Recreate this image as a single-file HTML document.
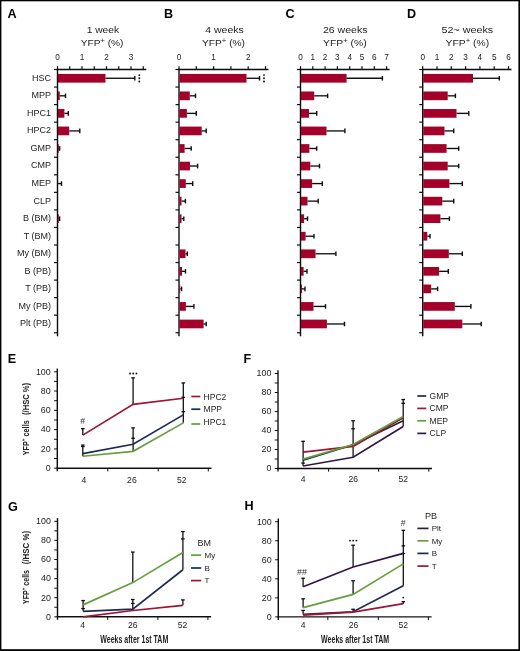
<!DOCTYPE html><html><head><meta charset="utf-8"><title>Figure</title><style>html,body{margin:0;padding:0;background:#fff;overflow:hidden;}svg{display:block;font-family:"Liberation Sans", sans-serif;}</style></head><body>
<svg width="520" height="651" viewBox="0 0 520 651">
<rect x="0" y="0" width="520" height="651" fill="#fff"/>
<defs><filter id="soft" x="-2%" y="-2%" width="104%" height="104%"><feGaussianBlur stdDeviation="0.3"/></filter></defs>
<g filter="url(#soft)">
<text x="7.4" y="18" font-size="12.6" text-anchor="start" font-weight="bold" fill="#000" >A</text>
<text x="86.7" y="33.45" font-size="9.6" textLength="32.4" lengthAdjust="spacingAndGlyphs" fill="#222">1 week</text>
<text x="80.8" y="45.5" font-size="9.6" textLength="42.6" lengthAdjust="spacingAndGlyphs" fill="#222">YFP<tspan font-size="7.2" dy="-2.6">+</tspan><tspan dy="2.6"> (%)</tspan></text>
<text x="57.5" y="60.3" font-size="8.2" text-anchor="middle" font-weight="normal" fill="#222" >0</text>
<text x="82" y="60.3" font-size="8.2" text-anchor="middle" font-weight="normal" fill="#222" >1</text>
<text x="106.5" y="60.3" font-size="8.2" text-anchor="middle" font-weight="normal" fill="#222" >2</text>
<text x="131" y="60.3" font-size="8.2" text-anchor="middle" font-weight="normal" fill="#222" >3</text>
<line x1="56.8" y1="69.5" x2="146.25" y2="69.5" stroke="#111" stroke-width="1.4" stroke-linecap="butt"/>
<line x1="57.5" y1="69.5" x2="57.5" y2="66.2" stroke="#111" stroke-width="1.2" stroke-linecap="butt"/>
<line x1="69.75" y1="69.5" x2="69.75" y2="66.2" stroke="#111" stroke-width="1.2" stroke-linecap="butt"/>
<line x1="82" y1="69.5" x2="82" y2="66.2" stroke="#111" stroke-width="1.2" stroke-linecap="butt"/>
<line x1="94.25" y1="69.5" x2="94.25" y2="66.2" stroke="#111" stroke-width="1.2" stroke-linecap="butt"/>
<line x1="106.5" y1="69.5" x2="106.5" y2="66.2" stroke="#111" stroke-width="1.2" stroke-linecap="butt"/>
<line x1="118.75" y1="69.5" x2="118.75" y2="66.2" stroke="#111" stroke-width="1.2" stroke-linecap="butt"/>
<line x1="131" y1="69.5" x2="131" y2="66.2" stroke="#111" stroke-width="1.2" stroke-linecap="butt"/>
<line x1="143.25" y1="69.5" x2="143.25" y2="66.2" stroke="#111" stroke-width="1.2" stroke-linecap="butt"/>
<line x1="57.5" y1="68.8" x2="57.5" y2="336.25" stroke="#111" stroke-width="1.4" stroke-linecap="butt"/>
<line x1="54" y1="69.5" x2="57.5" y2="69.5" stroke="#111" stroke-width="1.2" stroke-linecap="butt"/>
<line x1="54" y1="87.05" x2="57.5" y2="87.05" stroke="#111" stroke-width="1.2" stroke-linecap="butt"/>
<line x1="54" y1="104.6" x2="57.5" y2="104.6" stroke="#111" stroke-width="1.2" stroke-linecap="butt"/>
<line x1="54" y1="122.15" x2="57.5" y2="122.15" stroke="#111" stroke-width="1.2" stroke-linecap="butt"/>
<line x1="54" y1="139.7" x2="57.5" y2="139.7" stroke="#111" stroke-width="1.2" stroke-linecap="butt"/>
<line x1="54" y1="157.25" x2="57.5" y2="157.25" stroke="#111" stroke-width="1.2" stroke-linecap="butt"/>
<line x1="54" y1="174.8" x2="57.5" y2="174.8" stroke="#111" stroke-width="1.2" stroke-linecap="butt"/>
<line x1="54" y1="192.35" x2="57.5" y2="192.35" stroke="#111" stroke-width="1.2" stroke-linecap="butt"/>
<line x1="54" y1="209.9" x2="57.5" y2="209.9" stroke="#111" stroke-width="1.2" stroke-linecap="butt"/>
<line x1="54" y1="227.45" x2="57.5" y2="227.45" stroke="#111" stroke-width="1.2" stroke-linecap="butt"/>
<line x1="54" y1="245" x2="57.5" y2="245" stroke="#111" stroke-width="1.2" stroke-linecap="butt"/>
<line x1="54" y1="262.55" x2="57.5" y2="262.55" stroke="#111" stroke-width="1.2" stroke-linecap="butt"/>
<line x1="54" y1="280.1" x2="57.5" y2="280.1" stroke="#111" stroke-width="1.2" stroke-linecap="butt"/>
<line x1="54" y1="297.65" x2="57.5" y2="297.65" stroke="#111" stroke-width="1.2" stroke-linecap="butt"/>
<line x1="54" y1="315.2" x2="57.5" y2="315.2" stroke="#111" stroke-width="1.2" stroke-linecap="butt"/>
<line x1="54" y1="332.75" x2="57.5" y2="332.75" stroke="#111" stroke-width="1.2" stroke-linecap="butt"/>
<rect x="58" y="73.93" width="47.5" height="8.7" fill="#a3002c"/>
<line x1="105.5" y1="78.28" x2="134.8" y2="78.28" stroke="#111" stroke-width="1.35" stroke-linecap="butt"/>
<line x1="134.8" y1="75.98" x2="134.8" y2="80.58" stroke="#111" stroke-width="1.4" stroke-linecap="butt"/>
<rect x="58" y="91.48" width="1.8" height="8.7" fill="#a3002c"/>
<line x1="59.8" y1="95.83" x2="65.5" y2="95.83" stroke="#111" stroke-width="1.35" stroke-linecap="butt"/>
<line x1="65.5" y1="93.53" x2="65.5" y2="98.12" stroke="#111" stroke-width="1.4" stroke-linecap="butt"/>
<rect x="58" y="109.03" width="6.4" height="8.7" fill="#a3002c"/>
<line x1="64.4" y1="113.38" x2="68.3" y2="113.38" stroke="#111" stroke-width="1.35" stroke-linecap="butt"/>
<line x1="68.3" y1="111.08" x2="68.3" y2="115.67" stroke="#111" stroke-width="1.4" stroke-linecap="butt"/>
<rect x="58" y="126.58" width="11.2" height="8.7" fill="#a3002c"/>
<line x1="69.2" y1="130.93" x2="79.8" y2="130.93" stroke="#111" stroke-width="1.35" stroke-linecap="butt"/>
<line x1="79.8" y1="128.62" x2="79.8" y2="133.23" stroke="#111" stroke-width="1.4" stroke-linecap="butt"/>
<rect x="58" y="144.13" width="0.8" height="8.7" fill="#a3002c"/>
<line x1="58.8" y1="148.48" x2="59.6" y2="148.48" stroke="#111" stroke-width="1.35" stroke-linecap="butt"/>
<line x1="59.6" y1="146.18" x2="59.6" y2="150.78" stroke="#111" stroke-width="1.4" stroke-linecap="butt"/>
<rect x="58" y="179.22" width="0" height="8.7" fill="#a3002c"/>
<line x1="58" y1="183.57" x2="61.5" y2="183.57" stroke="#111" stroke-width="1.35" stroke-linecap="butt"/>
<line x1="61.5" y1="181.27" x2="61.5" y2="185.88" stroke="#111" stroke-width="1.4" stroke-linecap="butt"/>
<rect x="58" y="214.33" width="0.8" height="8.7" fill="#a3002c"/>
<line x1="58.8" y1="218.68" x2="59.6" y2="218.68" stroke="#111" stroke-width="1.35" stroke-linecap="butt"/>
<line x1="59.6" y1="216.38" x2="59.6" y2="220.98" stroke="#111" stroke-width="1.4" stroke-linecap="butt"/>
<circle cx="139.3" cy="75.08" r="0.95" fill="#111"/>
<circle cx="139.3" cy="78.28" r="0.95" fill="#111"/>
<circle cx="139.3" cy="81.48" r="0.95" fill="#111"/>
<text x="164" y="18" font-size="12.6" text-anchor="start" font-weight="bold" fill="#000" >B</text>
<text x="205.3" y="33.45" font-size="9.6" textLength="38.4" lengthAdjust="spacingAndGlyphs" fill="#222">4 weeks</text>
<text x="202" y="45.5" font-size="9.6" textLength="43" lengthAdjust="spacingAndGlyphs" fill="#222">YFP<tspan font-size="7.2" dy="-2.6">+</tspan><tspan dy="2.6"> (%)</tspan></text>
<text x="179" y="60.3" font-size="8.2" text-anchor="middle" font-weight="normal" fill="#222" >0</text>
<text x="213.6" y="60.3" font-size="8.2" text-anchor="middle" font-weight="normal" fill="#222" >1</text>
<text x="248.2" y="60.3" font-size="8.2" text-anchor="middle" font-weight="normal" fill="#222" >2</text>
<line x1="178.3" y1="69.5" x2="268.5" y2="69.5" stroke="#111" stroke-width="1.4" stroke-linecap="butt"/>
<line x1="179" y1="69.5" x2="179" y2="66.2" stroke="#111" stroke-width="1.2" stroke-linecap="butt"/>
<line x1="196.3" y1="69.5" x2="196.3" y2="66.2" stroke="#111" stroke-width="1.2" stroke-linecap="butt"/>
<line x1="213.6" y1="69.5" x2="213.6" y2="66.2" stroke="#111" stroke-width="1.2" stroke-linecap="butt"/>
<line x1="230.9" y1="69.5" x2="230.9" y2="66.2" stroke="#111" stroke-width="1.2" stroke-linecap="butt"/>
<line x1="248.2" y1="69.5" x2="248.2" y2="66.2" stroke="#111" stroke-width="1.2" stroke-linecap="butt"/>
<line x1="265.5" y1="69.5" x2="265.5" y2="66.2" stroke="#111" stroke-width="1.2" stroke-linecap="butt"/>
<line x1="179" y1="68.8" x2="179" y2="336.25" stroke="#111" stroke-width="1.4" stroke-linecap="butt"/>
<line x1="175.5" y1="69.5" x2="179" y2="69.5" stroke="#111" stroke-width="1.2" stroke-linecap="butt"/>
<line x1="175.5" y1="87.05" x2="179" y2="87.05" stroke="#111" stroke-width="1.2" stroke-linecap="butt"/>
<line x1="175.5" y1="104.6" x2="179" y2="104.6" stroke="#111" stroke-width="1.2" stroke-linecap="butt"/>
<line x1="175.5" y1="122.15" x2="179" y2="122.15" stroke="#111" stroke-width="1.2" stroke-linecap="butt"/>
<line x1="175.5" y1="139.7" x2="179" y2="139.7" stroke="#111" stroke-width="1.2" stroke-linecap="butt"/>
<line x1="175.5" y1="157.25" x2="179" y2="157.25" stroke="#111" stroke-width="1.2" stroke-linecap="butt"/>
<line x1="175.5" y1="174.8" x2="179" y2="174.8" stroke="#111" stroke-width="1.2" stroke-linecap="butt"/>
<line x1="175.5" y1="192.35" x2="179" y2="192.35" stroke="#111" stroke-width="1.2" stroke-linecap="butt"/>
<line x1="175.5" y1="209.9" x2="179" y2="209.9" stroke="#111" stroke-width="1.2" stroke-linecap="butt"/>
<line x1="175.5" y1="227.45" x2="179" y2="227.45" stroke="#111" stroke-width="1.2" stroke-linecap="butt"/>
<line x1="175.5" y1="245" x2="179" y2="245" stroke="#111" stroke-width="1.2" stroke-linecap="butt"/>
<line x1="175.5" y1="262.55" x2="179" y2="262.55" stroke="#111" stroke-width="1.2" stroke-linecap="butt"/>
<line x1="175.5" y1="280.1" x2="179" y2="280.1" stroke="#111" stroke-width="1.2" stroke-linecap="butt"/>
<line x1="175.5" y1="297.65" x2="179" y2="297.65" stroke="#111" stroke-width="1.2" stroke-linecap="butt"/>
<line x1="175.5" y1="315.2" x2="179" y2="315.2" stroke="#111" stroke-width="1.2" stroke-linecap="butt"/>
<line x1="175.5" y1="332.75" x2="179" y2="332.75" stroke="#111" stroke-width="1.2" stroke-linecap="butt"/>
<rect x="179.5" y="73.93" width="67" height="8.7" fill="#a3002c"/>
<line x1="246.5" y1="78.28" x2="259.5" y2="78.28" stroke="#111" stroke-width="1.35" stroke-linecap="butt"/>
<line x1="259.5" y1="75.98" x2="259.5" y2="80.58" stroke="#111" stroke-width="1.4" stroke-linecap="butt"/>
<rect x="179.5" y="91.48" width="10.3" height="8.7" fill="#a3002c"/>
<line x1="189.8" y1="95.83" x2="195.5" y2="95.83" stroke="#111" stroke-width="1.35" stroke-linecap="butt"/>
<line x1="195.5" y1="93.53" x2="195.5" y2="98.12" stroke="#111" stroke-width="1.4" stroke-linecap="butt"/>
<rect x="179.5" y="109.03" width="7.4" height="8.7" fill="#a3002c"/>
<line x1="186.9" y1="113.38" x2="196.3" y2="113.38" stroke="#111" stroke-width="1.35" stroke-linecap="butt"/>
<line x1="196.3" y1="111.08" x2="196.3" y2="115.67" stroke="#111" stroke-width="1.4" stroke-linecap="butt"/>
<rect x="179.5" y="126.58" width="22.2" height="8.7" fill="#a3002c"/>
<line x1="201.7" y1="130.93" x2="206.2" y2="130.93" stroke="#111" stroke-width="1.35" stroke-linecap="butt"/>
<line x1="206.2" y1="128.62" x2="206.2" y2="133.23" stroke="#111" stroke-width="1.4" stroke-linecap="butt"/>
<rect x="179.5" y="144.13" width="5.1" height="8.7" fill="#a3002c"/>
<line x1="184.6" y1="148.48" x2="191.2" y2="148.48" stroke="#111" stroke-width="1.35" stroke-linecap="butt"/>
<line x1="191.2" y1="146.18" x2="191.2" y2="150.78" stroke="#111" stroke-width="1.4" stroke-linecap="butt"/>
<rect x="179.5" y="161.68" width="10.5" height="8.7" fill="#a3002c"/>
<line x1="190" y1="166.03" x2="197.6" y2="166.03" stroke="#111" stroke-width="1.35" stroke-linecap="butt"/>
<line x1="197.6" y1="163.72" x2="197.6" y2="168.33" stroke="#111" stroke-width="1.4" stroke-linecap="butt"/>
<rect x="179.5" y="179.22" width="6.3" height="8.7" fill="#a3002c"/>
<line x1="185.8" y1="183.57" x2="192.7" y2="183.57" stroke="#111" stroke-width="1.35" stroke-linecap="butt"/>
<line x1="192.7" y1="181.27" x2="192.7" y2="185.88" stroke="#111" stroke-width="1.4" stroke-linecap="butt"/>
<rect x="179.5" y="196.78" width="2" height="8.7" fill="#a3002c"/>
<line x1="181.5" y1="201.12" x2="185.4" y2="201.12" stroke="#111" stroke-width="1.35" stroke-linecap="butt"/>
<line x1="185.4" y1="198.82" x2="185.4" y2="203.43" stroke="#111" stroke-width="1.4" stroke-linecap="butt"/>
<rect x="179.5" y="214.33" width="2" height="8.7" fill="#a3002c"/>
<line x1="181.5" y1="218.68" x2="183.8" y2="218.68" stroke="#111" stroke-width="1.35" stroke-linecap="butt"/>
<line x1="183.8" y1="216.38" x2="183.8" y2="220.98" stroke="#111" stroke-width="1.4" stroke-linecap="butt"/>
<rect x="179.5" y="249.43" width="6" height="8.7" fill="#a3002c"/>
<line x1="185.5" y1="253.78" x2="187.3" y2="253.78" stroke="#111" stroke-width="1.35" stroke-linecap="butt"/>
<line x1="187.3" y1="251.47" x2="187.3" y2="256.07" stroke="#111" stroke-width="1.4" stroke-linecap="butt"/>
<rect x="179.5" y="266.98" width="2.5" height="8.7" fill="#a3002c"/>
<line x1="182" y1="271.33" x2="185.5" y2="271.33" stroke="#111" stroke-width="1.35" stroke-linecap="butt"/>
<line x1="185.5" y1="269.03" x2="185.5" y2="273.63" stroke="#111" stroke-width="1.4" stroke-linecap="butt"/>
<rect x="179.5" y="284.52" width="0.7" height="8.7" fill="#a3002c"/>
<line x1="180.2" y1="288.88" x2="181.6" y2="288.88" stroke="#111" stroke-width="1.35" stroke-linecap="butt"/>
<line x1="181.6" y1="286.57" x2="181.6" y2="291.18" stroke="#111" stroke-width="1.4" stroke-linecap="butt"/>
<rect x="179.5" y="302.07" width="6.4" height="8.7" fill="#a3002c"/>
<line x1="185.9" y1="306.43" x2="193.9" y2="306.43" stroke="#111" stroke-width="1.35" stroke-linecap="butt"/>
<line x1="193.9" y1="304.12" x2="193.9" y2="308.73" stroke="#111" stroke-width="1.4" stroke-linecap="butt"/>
<rect x="179.5" y="319.62" width="24.1" height="8.7" fill="#a3002c"/>
<line x1="203.6" y1="323.98" x2="206.2" y2="323.98" stroke="#111" stroke-width="1.35" stroke-linecap="butt"/>
<line x1="206.2" y1="321.68" x2="206.2" y2="326.28" stroke="#111" stroke-width="1.4" stroke-linecap="butt"/>
<circle cx="264" cy="75.08" r="0.95" fill="#111"/>
<circle cx="264" cy="78.28" r="0.95" fill="#111"/>
<circle cx="264" cy="81.48" r="0.95" fill="#111"/>
<text x="285.6" y="18" font-size="12.6" text-anchor="start" font-weight="bold" fill="#000" >C</text>
<text x="322.95" y="33.45" font-size="9.6" textLength="44.6" lengthAdjust="spacingAndGlyphs" fill="#222">26 weeks</text>
<text x="323.1" y="45.5" font-size="9.6" textLength="43.6" lengthAdjust="spacingAndGlyphs" fill="#222">YFP<tspan font-size="7.2" dy="-2.6">+</tspan><tspan dy="2.6"> (%)</tspan></text>
<text x="300.5" y="60.3" font-size="8.2" text-anchor="middle" font-weight="normal" fill="#222" >0</text>
<text x="312.8" y="60.3" font-size="8.2" text-anchor="middle" font-weight="normal" fill="#222" >1</text>
<text x="325.1" y="60.3" font-size="8.2" text-anchor="middle" font-weight="normal" fill="#222" >2</text>
<text x="337.4" y="60.3" font-size="8.2" text-anchor="middle" font-weight="normal" fill="#222" >3</text>
<text x="349.7" y="60.3" font-size="8.2" text-anchor="middle" font-weight="normal" fill="#222" >4</text>
<text x="362" y="60.3" font-size="8.2" text-anchor="middle" font-weight="normal" fill="#222" >5</text>
<text x="374.3" y="60.3" font-size="8.2" text-anchor="middle" font-weight="normal" fill="#222" >6</text>
<text x="386.6" y="60.3" font-size="8.2" text-anchor="middle" font-weight="normal" fill="#222" >7</text>
<line x1="299.8" y1="69.5" x2="389.6" y2="69.5" stroke="#111" stroke-width="1.4" stroke-linecap="butt"/>
<line x1="300.5" y1="69.5" x2="300.5" y2="66.2" stroke="#111" stroke-width="1.2" stroke-linecap="butt"/>
<line x1="312.8" y1="69.5" x2="312.8" y2="66.2" stroke="#111" stroke-width="1.2" stroke-linecap="butt"/>
<line x1="325.1" y1="69.5" x2="325.1" y2="66.2" stroke="#111" stroke-width="1.2" stroke-linecap="butt"/>
<line x1="337.4" y1="69.5" x2="337.4" y2="66.2" stroke="#111" stroke-width="1.2" stroke-linecap="butt"/>
<line x1="349.7" y1="69.5" x2="349.7" y2="66.2" stroke="#111" stroke-width="1.2" stroke-linecap="butt"/>
<line x1="362" y1="69.5" x2="362" y2="66.2" stroke="#111" stroke-width="1.2" stroke-linecap="butt"/>
<line x1="374.3" y1="69.5" x2="374.3" y2="66.2" stroke="#111" stroke-width="1.2" stroke-linecap="butt"/>
<line x1="386.6" y1="69.5" x2="386.6" y2="66.2" stroke="#111" stroke-width="1.2" stroke-linecap="butt"/>
<line x1="300.5" y1="68.8" x2="300.5" y2="336.25" stroke="#111" stroke-width="1.4" stroke-linecap="butt"/>
<line x1="297" y1="69.5" x2="300.5" y2="69.5" stroke="#111" stroke-width="1.2" stroke-linecap="butt"/>
<line x1="297" y1="87.05" x2="300.5" y2="87.05" stroke="#111" stroke-width="1.2" stroke-linecap="butt"/>
<line x1="297" y1="104.6" x2="300.5" y2="104.6" stroke="#111" stroke-width="1.2" stroke-linecap="butt"/>
<line x1="297" y1="122.15" x2="300.5" y2="122.15" stroke="#111" stroke-width="1.2" stroke-linecap="butt"/>
<line x1="297" y1="139.7" x2="300.5" y2="139.7" stroke="#111" stroke-width="1.2" stroke-linecap="butt"/>
<line x1="297" y1="157.25" x2="300.5" y2="157.25" stroke="#111" stroke-width="1.2" stroke-linecap="butt"/>
<line x1="297" y1="174.8" x2="300.5" y2="174.8" stroke="#111" stroke-width="1.2" stroke-linecap="butt"/>
<line x1="297" y1="192.35" x2="300.5" y2="192.35" stroke="#111" stroke-width="1.2" stroke-linecap="butt"/>
<line x1="297" y1="209.9" x2="300.5" y2="209.9" stroke="#111" stroke-width="1.2" stroke-linecap="butt"/>
<line x1="297" y1="227.45" x2="300.5" y2="227.45" stroke="#111" stroke-width="1.2" stroke-linecap="butt"/>
<line x1="297" y1="245" x2="300.5" y2="245" stroke="#111" stroke-width="1.2" stroke-linecap="butt"/>
<line x1="297" y1="262.55" x2="300.5" y2="262.55" stroke="#111" stroke-width="1.2" stroke-linecap="butt"/>
<line x1="297" y1="280.1" x2="300.5" y2="280.1" stroke="#111" stroke-width="1.2" stroke-linecap="butt"/>
<line x1="297" y1="297.65" x2="300.5" y2="297.65" stroke="#111" stroke-width="1.2" stroke-linecap="butt"/>
<line x1="297" y1="315.2" x2="300.5" y2="315.2" stroke="#111" stroke-width="1.2" stroke-linecap="butt"/>
<line x1="297" y1="332.75" x2="300.5" y2="332.75" stroke="#111" stroke-width="1.2" stroke-linecap="butt"/>
<rect x="301" y="73.93" width="45.6" height="8.7" fill="#a3002c"/>
<line x1="346.6" y1="78.28" x2="382.4" y2="78.28" stroke="#111" stroke-width="1.35" stroke-linecap="butt"/>
<line x1="382.4" y1="75.98" x2="382.4" y2="80.58" stroke="#111" stroke-width="1.4" stroke-linecap="butt"/>
<rect x="301" y="91.48" width="13.2" height="8.7" fill="#a3002c"/>
<line x1="314.2" y1="95.83" x2="327.6" y2="95.83" stroke="#111" stroke-width="1.35" stroke-linecap="butt"/>
<line x1="327.6" y1="93.53" x2="327.6" y2="98.12" stroke="#111" stroke-width="1.4" stroke-linecap="butt"/>
<rect x="301" y="109.03" width="8" height="8.7" fill="#a3002c"/>
<line x1="309" y1="113.38" x2="316.7" y2="113.38" stroke="#111" stroke-width="1.35" stroke-linecap="butt"/>
<line x1="316.7" y1="111.08" x2="316.7" y2="115.67" stroke="#111" stroke-width="1.4" stroke-linecap="butt"/>
<rect x="301" y="126.58" width="25.5" height="8.7" fill="#a3002c"/>
<line x1="326.5" y1="130.93" x2="344.9" y2="130.93" stroke="#111" stroke-width="1.35" stroke-linecap="butt"/>
<line x1="344.9" y1="128.62" x2="344.9" y2="133.23" stroke="#111" stroke-width="1.4" stroke-linecap="butt"/>
<rect x="301" y="144.13" width="8.4" height="8.7" fill="#a3002c"/>
<line x1="309.4" y1="148.48" x2="316.7" y2="148.48" stroke="#111" stroke-width="1.35" stroke-linecap="butt"/>
<line x1="316.7" y1="146.18" x2="316.7" y2="150.78" stroke="#111" stroke-width="1.4" stroke-linecap="butt"/>
<rect x="301" y="161.68" width="9.3" height="8.7" fill="#a3002c"/>
<line x1="310.3" y1="166.03" x2="319.5" y2="166.03" stroke="#111" stroke-width="1.35" stroke-linecap="butt"/>
<line x1="319.5" y1="163.72" x2="319.5" y2="168.33" stroke="#111" stroke-width="1.4" stroke-linecap="butt"/>
<rect x="301" y="179.22" width="11.1" height="8.7" fill="#a3002c"/>
<line x1="312.1" y1="183.57" x2="322.3" y2="183.57" stroke="#111" stroke-width="1.35" stroke-linecap="butt"/>
<line x1="322.3" y1="181.27" x2="322.3" y2="185.88" stroke="#111" stroke-width="1.4" stroke-linecap="butt"/>
<rect x="301" y="196.78" width="6.5" height="8.7" fill="#a3002c"/>
<line x1="307.5" y1="201.12" x2="318.2" y2="201.12" stroke="#111" stroke-width="1.35" stroke-linecap="butt"/>
<line x1="318.2" y1="198.82" x2="318.2" y2="203.43" stroke="#111" stroke-width="1.4" stroke-linecap="butt"/>
<rect x="301" y="214.33" width="3.1" height="8.7" fill="#a3002c"/>
<line x1="304.1" y1="218.68" x2="307.5" y2="218.68" stroke="#111" stroke-width="1.35" stroke-linecap="butt"/>
<line x1="307.5" y1="216.38" x2="307.5" y2="220.98" stroke="#111" stroke-width="1.4" stroke-linecap="butt"/>
<rect x="301" y="231.88" width="4.6" height="8.7" fill="#a3002c"/>
<line x1="305.6" y1="236.22" x2="314" y2="236.22" stroke="#111" stroke-width="1.35" stroke-linecap="butt"/>
<line x1="314" y1="233.92" x2="314" y2="238.53" stroke="#111" stroke-width="1.4" stroke-linecap="butt"/>
<rect x="301" y="249.43" width="14.5" height="8.7" fill="#a3002c"/>
<line x1="315.5" y1="253.78" x2="335.9" y2="253.78" stroke="#111" stroke-width="1.35" stroke-linecap="butt"/>
<line x1="335.9" y1="251.47" x2="335.9" y2="256.07" stroke="#111" stroke-width="1.4" stroke-linecap="butt"/>
<rect x="301" y="266.98" width="2.6" height="8.7" fill="#a3002c"/>
<line x1="303.6" y1="271.33" x2="307" y2="271.33" stroke="#111" stroke-width="1.35" stroke-linecap="butt"/>
<line x1="307" y1="269.03" x2="307" y2="273.63" stroke="#111" stroke-width="1.4" stroke-linecap="butt"/>
<rect x="301" y="284.52" width="1" height="8.7" fill="#a3002c"/>
<line x1="302" y1="288.88" x2="305" y2="288.88" stroke="#111" stroke-width="1.35" stroke-linecap="butt"/>
<line x1="305" y1="286.57" x2="305" y2="291.18" stroke="#111" stroke-width="1.4" stroke-linecap="butt"/>
<rect x="301" y="302.07" width="12.5" height="8.7" fill="#a3002c"/>
<line x1="313.5" y1="306.43" x2="325.5" y2="306.43" stroke="#111" stroke-width="1.35" stroke-linecap="butt"/>
<line x1="325.5" y1="304.12" x2="325.5" y2="308.73" stroke="#111" stroke-width="1.4" stroke-linecap="butt"/>
<rect x="301" y="319.62" width="25.9" height="8.7" fill="#a3002c"/>
<line x1="326.9" y1="323.98" x2="344.5" y2="323.98" stroke="#111" stroke-width="1.35" stroke-linecap="butt"/>
<line x1="344.5" y1="321.68" x2="344.5" y2="326.28" stroke="#111" stroke-width="1.4" stroke-linecap="butt"/>
<text x="407.1" y="18" font-size="12.6" text-anchor="start" font-weight="bold" fill="#000" >D</text>
<text x="441.4" y="33.45" font-size="9.6" textLength="51.8" lengthAdjust="spacingAndGlyphs" fill="#222">52~ weeks</text>
<text x="445.6" y="45.5" font-size="9.6" textLength="43.6" lengthAdjust="spacingAndGlyphs" fill="#222">YFP<tspan font-size="7.2" dy="-2.6">+</tspan><tspan dy="2.6"> (%)</tspan></text>
<text x="422.7" y="60.3" font-size="8.2" text-anchor="middle" font-weight="normal" fill="#222" >0</text>
<text x="437" y="60.3" font-size="8.2" text-anchor="middle" font-weight="normal" fill="#222" >1</text>
<text x="451.3" y="60.3" font-size="8.2" text-anchor="middle" font-weight="normal" fill="#222" >2</text>
<text x="465.6" y="60.3" font-size="8.2" text-anchor="middle" font-weight="normal" fill="#222" >3</text>
<text x="479.9" y="60.3" font-size="8.2" text-anchor="middle" font-weight="normal" fill="#222" >4</text>
<text x="494.2" y="60.3" font-size="8.2" text-anchor="middle" font-weight="normal" fill="#222" >5</text>
<text x="508.5" y="60.3" font-size="8.2" text-anchor="middle" font-weight="normal" fill="#222" >6</text>
<line x1="422" y1="69.5" x2="511.5" y2="69.5" stroke="#111" stroke-width="1.4" stroke-linecap="butt"/>
<line x1="422.7" y1="69.5" x2="422.7" y2="66.2" stroke="#111" stroke-width="1.2" stroke-linecap="butt"/>
<line x1="437" y1="69.5" x2="437" y2="66.2" stroke="#111" stroke-width="1.2" stroke-linecap="butt"/>
<line x1="451.3" y1="69.5" x2="451.3" y2="66.2" stroke="#111" stroke-width="1.2" stroke-linecap="butt"/>
<line x1="465.6" y1="69.5" x2="465.6" y2="66.2" stroke="#111" stroke-width="1.2" stroke-linecap="butt"/>
<line x1="479.9" y1="69.5" x2="479.9" y2="66.2" stroke="#111" stroke-width="1.2" stroke-linecap="butt"/>
<line x1="494.2" y1="69.5" x2="494.2" y2="66.2" stroke="#111" stroke-width="1.2" stroke-linecap="butt"/>
<line x1="508.5" y1="69.5" x2="508.5" y2="66.2" stroke="#111" stroke-width="1.2" stroke-linecap="butt"/>
<line x1="422.7" y1="68.8" x2="422.7" y2="336.25" stroke="#111" stroke-width="1.4" stroke-linecap="butt"/>
<line x1="419.2" y1="69.5" x2="422.7" y2="69.5" stroke="#111" stroke-width="1.2" stroke-linecap="butt"/>
<line x1="419.2" y1="87.05" x2="422.7" y2="87.05" stroke="#111" stroke-width="1.2" stroke-linecap="butt"/>
<line x1="419.2" y1="104.6" x2="422.7" y2="104.6" stroke="#111" stroke-width="1.2" stroke-linecap="butt"/>
<line x1="419.2" y1="122.15" x2="422.7" y2="122.15" stroke="#111" stroke-width="1.2" stroke-linecap="butt"/>
<line x1="419.2" y1="139.7" x2="422.7" y2="139.7" stroke="#111" stroke-width="1.2" stroke-linecap="butt"/>
<line x1="419.2" y1="157.25" x2="422.7" y2="157.25" stroke="#111" stroke-width="1.2" stroke-linecap="butt"/>
<line x1="419.2" y1="174.8" x2="422.7" y2="174.8" stroke="#111" stroke-width="1.2" stroke-linecap="butt"/>
<line x1="419.2" y1="192.35" x2="422.7" y2="192.35" stroke="#111" stroke-width="1.2" stroke-linecap="butt"/>
<line x1="419.2" y1="209.9" x2="422.7" y2="209.9" stroke="#111" stroke-width="1.2" stroke-linecap="butt"/>
<line x1="419.2" y1="227.45" x2="422.7" y2="227.45" stroke="#111" stroke-width="1.2" stroke-linecap="butt"/>
<line x1="419.2" y1="245" x2="422.7" y2="245" stroke="#111" stroke-width="1.2" stroke-linecap="butt"/>
<line x1="419.2" y1="262.55" x2="422.7" y2="262.55" stroke="#111" stroke-width="1.2" stroke-linecap="butt"/>
<line x1="419.2" y1="280.1" x2="422.7" y2="280.1" stroke="#111" stroke-width="1.2" stroke-linecap="butt"/>
<line x1="419.2" y1="297.65" x2="422.7" y2="297.65" stroke="#111" stroke-width="1.2" stroke-linecap="butt"/>
<line x1="419.2" y1="315.2" x2="422.7" y2="315.2" stroke="#111" stroke-width="1.2" stroke-linecap="butt"/>
<line x1="419.2" y1="332.75" x2="422.7" y2="332.75" stroke="#111" stroke-width="1.2" stroke-linecap="butt"/>
<rect x="423.2" y="73.93" width="49.8" height="8.7" fill="#a3002c"/>
<line x1="473" y1="78.28" x2="499.3" y2="78.28" stroke="#111" stroke-width="1.35" stroke-linecap="butt"/>
<line x1="499.3" y1="75.98" x2="499.3" y2="80.58" stroke="#111" stroke-width="1.4" stroke-linecap="butt"/>
<rect x="423.2" y="91.48" width="24.5" height="8.7" fill="#a3002c"/>
<line x1="447.7" y1="95.83" x2="455.4" y2="95.83" stroke="#111" stroke-width="1.35" stroke-linecap="butt"/>
<line x1="455.4" y1="93.53" x2="455.4" y2="98.12" stroke="#111" stroke-width="1.4" stroke-linecap="butt"/>
<rect x="423.2" y="109.03" width="33.3" height="8.7" fill="#a3002c"/>
<line x1="456.5" y1="113.38" x2="468.8" y2="113.38" stroke="#111" stroke-width="1.35" stroke-linecap="butt"/>
<line x1="468.8" y1="111.08" x2="468.8" y2="115.67" stroke="#111" stroke-width="1.4" stroke-linecap="butt"/>
<rect x="423.2" y="126.58" width="21.3" height="8.7" fill="#a3002c"/>
<line x1="444.5" y1="130.93" x2="453.7" y2="130.93" stroke="#111" stroke-width="1.35" stroke-linecap="butt"/>
<line x1="453.7" y1="128.62" x2="453.7" y2="133.23" stroke="#111" stroke-width="1.4" stroke-linecap="butt"/>
<rect x="423.2" y="144.13" width="23.4" height="8.7" fill="#a3002c"/>
<line x1="446.6" y1="148.48" x2="458.7" y2="148.48" stroke="#111" stroke-width="1.35" stroke-linecap="butt"/>
<line x1="458.7" y1="146.18" x2="458.7" y2="150.78" stroke="#111" stroke-width="1.4" stroke-linecap="butt"/>
<rect x="423.2" y="161.68" width="24.5" height="8.7" fill="#a3002c"/>
<line x1="447.7" y1="166.03" x2="458.7" y2="166.03" stroke="#111" stroke-width="1.35" stroke-linecap="butt"/>
<line x1="458.7" y1="163.72" x2="458.7" y2="168.33" stroke="#111" stroke-width="1.4" stroke-linecap="butt"/>
<rect x="423.2" y="179.22" width="26.2" height="8.7" fill="#a3002c"/>
<line x1="449.4" y1="183.57" x2="462.3" y2="183.57" stroke="#111" stroke-width="1.35" stroke-linecap="butt"/>
<line x1="462.3" y1="181.27" x2="462.3" y2="185.88" stroke="#111" stroke-width="1.4" stroke-linecap="butt"/>
<rect x="423.2" y="196.78" width="19.1" height="8.7" fill="#a3002c"/>
<line x1="442.3" y1="201.12" x2="453.7" y2="201.12" stroke="#111" stroke-width="1.35" stroke-linecap="butt"/>
<line x1="453.7" y1="198.82" x2="453.7" y2="203.43" stroke="#111" stroke-width="1.4" stroke-linecap="butt"/>
<rect x="423.2" y="214.33" width="17.2" height="8.7" fill="#a3002c"/>
<line x1="440.4" y1="218.68" x2="449.4" y2="218.68" stroke="#111" stroke-width="1.35" stroke-linecap="butt"/>
<line x1="449.4" y1="216.38" x2="449.4" y2="220.98" stroke="#111" stroke-width="1.4" stroke-linecap="butt"/>
<rect x="423.2" y="231.88" width="4.1" height="8.7" fill="#a3002c"/>
<line x1="427.3" y1="236.22" x2="430" y2="236.22" stroke="#111" stroke-width="1.35" stroke-linecap="butt"/>
<line x1="430" y1="233.92" x2="430" y2="238.53" stroke="#111" stroke-width="1.4" stroke-linecap="butt"/>
<rect x="423.2" y="249.43" width="25.6" height="8.7" fill="#a3002c"/>
<line x1="448.8" y1="253.78" x2="462.3" y2="253.78" stroke="#111" stroke-width="1.35" stroke-linecap="butt"/>
<line x1="462.3" y1="251.47" x2="462.3" y2="256.07" stroke="#111" stroke-width="1.4" stroke-linecap="butt"/>
<rect x="423.2" y="266.98" width="15.9" height="8.7" fill="#a3002c"/>
<line x1="439.1" y1="271.33" x2="448.3" y2="271.33" stroke="#111" stroke-width="1.35" stroke-linecap="butt"/>
<line x1="448.3" y1="269.03" x2="448.3" y2="273.63" stroke="#111" stroke-width="1.4" stroke-linecap="butt"/>
<rect x="423.2" y="284.52" width="7.9" height="8.7" fill="#a3002c"/>
<line x1="431.1" y1="288.88" x2="437.6" y2="288.88" stroke="#111" stroke-width="1.35" stroke-linecap="butt"/>
<line x1="437.6" y1="286.57" x2="437.6" y2="291.18" stroke="#111" stroke-width="1.4" stroke-linecap="butt"/>
<rect x="423.2" y="302.07" width="31.6" height="8.7" fill="#a3002c"/>
<line x1="454.8" y1="306.43" x2="470.9" y2="306.43" stroke="#111" stroke-width="1.35" stroke-linecap="butt"/>
<line x1="470.9" y1="304.12" x2="470.9" y2="308.73" stroke="#111" stroke-width="1.4" stroke-linecap="butt"/>
<rect x="423.2" y="319.62" width="39.1" height="8.7" fill="#a3002c"/>
<line x1="462.3" y1="323.98" x2="481.2" y2="323.98" stroke="#111" stroke-width="1.35" stroke-linecap="butt"/>
<line x1="481.2" y1="321.68" x2="481.2" y2="326.28" stroke="#111" stroke-width="1.4" stroke-linecap="butt"/>
<text x="51" y="80.68" font-size="9" text-anchor="end" font-weight="normal" fill="#222" >HSC</text>
<text x="51" y="98.23" font-size="9" text-anchor="end" font-weight="normal" fill="#222" >MPP</text>
<text x="51" y="115.78" font-size="9" text-anchor="end" font-weight="normal" fill="#222" >HPC1</text>
<text x="51" y="133.33" font-size="9" text-anchor="end" font-weight="normal" fill="#222" >HPC2</text>
<text x="51" y="150.88" font-size="9" text-anchor="end" font-weight="normal" fill="#222" >GMP</text>
<text x="51" y="168.43" font-size="9" text-anchor="end" font-weight="normal" fill="#222" >CMP</text>
<text x="51" y="185.97" font-size="9" text-anchor="end" font-weight="normal" fill="#222" >MEP</text>
<text x="51" y="203.53" font-size="9" text-anchor="end" font-weight="normal" fill="#222" >CLP</text>
<text x="51" y="221.08" font-size="9" text-anchor="end" font-weight="normal" fill="#222" >B (BM)</text>
<text x="51" y="238.62" font-size="9" text-anchor="end" font-weight="normal" fill="#222" >T (BM)</text>
<text x="51" y="256.18" font-size="9" text-anchor="end" font-weight="normal" fill="#222" >My (BM)</text>
<text x="51" y="273.73" font-size="9" text-anchor="end" font-weight="normal" fill="#222" >B (PB)</text>
<text x="51" y="291.27" font-size="9" text-anchor="end" font-weight="normal" fill="#222" >T (PB)</text>
<text x="51" y="308.82" font-size="9" text-anchor="end" font-weight="normal" fill="#222" >My (PB)</text>
<text x="51" y="326.38" font-size="9" text-anchor="end" font-weight="normal" fill="#222" >Plt (PB)</text>
<text x="7.7" y="362.8" font-size="12.6" text-anchor="start" font-weight="bold" fill="#000" >E</text>
<line x1="57.3" y1="368.55" x2="57.3" y2="471.2" stroke="#111" stroke-width="1.4" stroke-linecap="butt"/>
<line x1="54.1" y1="468.2" x2="57.3" y2="468.2" stroke="#111" stroke-width="1" stroke-linecap="butt"/>
<line x1="54.1" y1="458.56" x2="57.3" y2="458.56" stroke="#111" stroke-width="1" stroke-linecap="butt"/>
<line x1="54.1" y1="448.91" x2="57.3" y2="448.91" stroke="#111" stroke-width="1" stroke-linecap="butt"/>
<line x1="54.1" y1="439.26" x2="57.3" y2="439.26" stroke="#111" stroke-width="1" stroke-linecap="butt"/>
<line x1="54.1" y1="429.62" x2="57.3" y2="429.62" stroke="#111" stroke-width="1" stroke-linecap="butt"/>
<line x1="54.1" y1="419.97" x2="57.3" y2="419.97" stroke="#111" stroke-width="1" stroke-linecap="butt"/>
<line x1="54.1" y1="410.33" x2="57.3" y2="410.33" stroke="#111" stroke-width="1" stroke-linecap="butt"/>
<line x1="54.1" y1="400.69" x2="57.3" y2="400.69" stroke="#111" stroke-width="1" stroke-linecap="butt"/>
<line x1="54.1" y1="391.04" x2="57.3" y2="391.04" stroke="#111" stroke-width="1" stroke-linecap="butt"/>
<line x1="54.1" y1="381.39" x2="57.3" y2="381.39" stroke="#111" stroke-width="1" stroke-linecap="butt"/>
<line x1="54.1" y1="371.75" x2="57.3" y2="371.75" stroke="#111" stroke-width="1" stroke-linecap="butt"/>
<text x="50.7" y="471" font-size="8.9" text-anchor="end" font-weight="normal" fill="#222" >0</text>
<text x="50.7" y="451.71" font-size="8.9" text-anchor="end" font-weight="normal" fill="#222" >20</text>
<text x="50.7" y="432.42" font-size="8.9" text-anchor="end" font-weight="normal" fill="#222" >40</text>
<text x="50.7" y="413.13" font-size="8.9" text-anchor="end" font-weight="normal" fill="#222" >60</text>
<text x="50.7" y="393.84" font-size="8.9" text-anchor="end" font-weight="normal" fill="#222" >80</text>
<text x="50.7" y="374.55" font-size="8.9" text-anchor="end" font-weight="normal" fill="#222" >100</text>
<line x1="56.6" y1="468.2" x2="211.5" y2="468.2" stroke="#111" stroke-width="1.4" stroke-linecap="butt"/>
<line x1="107.8" y1="468.2" x2="107.8" y2="471.4" stroke="#111" stroke-width="1" stroke-linecap="butt"/>
<line x1="158.2" y1="468.2" x2="158.2" y2="471.4" stroke="#111" stroke-width="1" stroke-linecap="butt"/>
<line x1="208.3" y1="468.2" x2="208.3" y2="471.4" stroke="#111" stroke-width="1" stroke-linecap="butt"/>
<text x="83.9" y="482.5" font-size="8.6" text-anchor="middle" font-weight="normal" fill="#222" >4</text>
<text x="131.9" y="482.5" font-size="8.6" text-anchor="middle" font-weight="normal" fill="#222" >26</text>
<text x="181.8" y="482.5" font-size="8.6" text-anchor="middle" font-weight="normal" fill="#222" >52</text>
<text transform="translate(28.6,455.3) rotate(-90)" x="0" y="0" font-size="9.4" textLength="35" lengthAdjust="spacingAndGlyphs" font-weight="bold" fill="#222">YFP<tspan font-size="6" dy="-3.2">+</tspan><tspan dy="3.2"> cells</tspan></text>
<text transform="translate(28.6,415) rotate(-90)" x="0" y="0" font-size="9.4" textLength="32.1" lengthAdjust="spacingAndGlyphs" font-weight="bold" fill="#222">(/HSC %)</text>
<line x1="82.8" y1="435.12" x2="82.8" y2="428.66" stroke="#111" stroke-width="1.3" stroke-linecap="butt"/>
<line x1="82.8" y1="456.24" x2="82.8" y2="444.86" stroke="#111" stroke-width="1.3" stroke-linecap="butt"/>
<line x1="133.1" y1="404.35" x2="133.1" y2="377.83" stroke="#111" stroke-width="1.3" stroke-linecap="butt"/>
<line x1="133.1" y1="451.32" x2="133.1" y2="427.88" stroke="#111" stroke-width="1.3" stroke-linecap="butt"/>
<line x1="183.3" y1="422.87" x2="183.3" y2="382.94" stroke="#111" stroke-width="1.3" stroke-linecap="butt"/>
<line x1="81" y1="428.66" x2="84.6" y2="428.66" stroke="#111" stroke-width="1.3" stroke-linecap="butt"/>
<line x1="81" y1="445.15" x2="84.6" y2="445.15" stroke="#111" stroke-width="1.3" stroke-linecap="butt"/>
<line x1="81" y1="446.5" x2="84.6" y2="446.5" stroke="#111" stroke-width="1.3" stroke-linecap="butt"/>
<line x1="131.3" y1="377.83" x2="134.9" y2="377.83" stroke="#111" stroke-width="1.3" stroke-linecap="butt"/>
<line x1="131.3" y1="427.88" x2="134.9" y2="427.88" stroke="#111" stroke-width="1.3" stroke-linecap="butt"/>
<line x1="131.3" y1="438.3" x2="134.9" y2="438.3" stroke="#111" stroke-width="1.3" stroke-linecap="butt"/>
<line x1="181.5" y1="382.94" x2="185.1" y2="382.94" stroke="#111" stroke-width="1.3" stroke-linecap="butt"/>
<line x1="181.5" y1="411.68" x2="185.1" y2="411.68" stroke="#111" stroke-width="1.3" stroke-linecap="butt"/>
<line x1="181.5" y1="397.31" x2="185.1" y2="397.31" stroke="#111" stroke-width="1.3" stroke-linecap="butt"/>
<polyline points="82.8,435.12 133.1,404.35 183.3,398.27" fill="none" stroke="#9e1334" stroke-width="1.7" stroke-linejoin="miter"/>
<polyline points="82.8,453.54 133.1,444.28 183.3,414.86" fill="none" stroke="#1e2b52" stroke-width="1.7" stroke-linejoin="miter"/>
<polyline points="82.8,456.24 133.1,451.32 183.3,422.87" fill="none" stroke="#65a03c" stroke-width="1.7" stroke-linejoin="miter"/>
<text x="82.8" y="424.4" font-size="8.8" text-anchor="middle" font-weight="normal" fill="#333" >#</text>
<circle cx="130" cy="373.5" r="0.95" fill="#111"/>
<circle cx="133.2" cy="373.5" r="0.95" fill="#111"/>
<circle cx="136.4" cy="373.5" r="0.95" fill="#111"/>
<line x1="191.3" y1="396.5" x2="200.3" y2="396.5" stroke="#9e1334" stroke-width="1.7" stroke-linecap="butt"/>
<text x="203.6" y="399.6" font-size="8.5" text-anchor="start" font-weight="normal" fill="#222" >HPC2</text>
<line x1="191.3" y1="409.2" x2="200.3" y2="409.2" stroke="#1e2b52" stroke-width="1.7" stroke-linecap="butt"/>
<text x="203.6" y="411.7" font-size="8.5" text-anchor="start" font-weight="normal" fill="#222" >MPP</text>
<line x1="191.3" y1="424" x2="200.3" y2="424" stroke="#65a03c" stroke-width="1.7" stroke-linecap="butt"/>
<text x="203.6" y="424.9" font-size="8.5" text-anchor="start" font-weight="normal" fill="#222" >HPC1</text>
<text x="243.4" y="363.4" font-size="12.6" text-anchor="start" font-weight="bold" fill="#000" >F</text>
<line x1="278" y1="370.3" x2="278" y2="471.5" stroke="#111" stroke-width="1.4" stroke-linecap="butt"/>
<line x1="274.8" y1="468.5" x2="278" y2="468.5" stroke="#111" stroke-width="1" stroke-linecap="butt"/>
<line x1="274.8" y1="459" x2="278" y2="459" stroke="#111" stroke-width="1" stroke-linecap="butt"/>
<line x1="274.8" y1="449.5" x2="278" y2="449.5" stroke="#111" stroke-width="1" stroke-linecap="butt"/>
<line x1="274.8" y1="440" x2="278" y2="440" stroke="#111" stroke-width="1" stroke-linecap="butt"/>
<line x1="274.8" y1="430.5" x2="278" y2="430.5" stroke="#111" stroke-width="1" stroke-linecap="butt"/>
<line x1="274.8" y1="421" x2="278" y2="421" stroke="#111" stroke-width="1" stroke-linecap="butt"/>
<line x1="274.8" y1="411.5" x2="278" y2="411.5" stroke="#111" stroke-width="1" stroke-linecap="butt"/>
<line x1="274.8" y1="402" x2="278" y2="402" stroke="#111" stroke-width="1" stroke-linecap="butt"/>
<line x1="274.8" y1="392.5" x2="278" y2="392.5" stroke="#111" stroke-width="1" stroke-linecap="butt"/>
<line x1="274.8" y1="383" x2="278" y2="383" stroke="#111" stroke-width="1" stroke-linecap="butt"/>
<line x1="274.8" y1="373.5" x2="278" y2="373.5" stroke="#111" stroke-width="1" stroke-linecap="butt"/>
<text x="271.4" y="471.3" font-size="8.9" text-anchor="end" font-weight="normal" fill="#222" >0</text>
<text x="271.4" y="452.3" font-size="8.9" text-anchor="end" font-weight="normal" fill="#222" >20</text>
<text x="271.4" y="433.3" font-size="8.9" text-anchor="end" font-weight="normal" fill="#222" >40</text>
<text x="271.4" y="414.3" font-size="8.9" text-anchor="end" font-weight="normal" fill="#222" >60</text>
<text x="271.4" y="395.3" font-size="8.9" text-anchor="end" font-weight="normal" fill="#222" >80</text>
<text x="271.4" y="376.3" font-size="8.9" text-anchor="end" font-weight="normal" fill="#222" >100</text>
<line x1="277.3" y1="468.5" x2="432" y2="468.5" stroke="#111" stroke-width="1.4" stroke-linecap="butt"/>
<line x1="328.6" y1="468.5" x2="328.6" y2="471.7" stroke="#111" stroke-width="1" stroke-linecap="butt"/>
<line x1="378.6" y1="468.5" x2="378.6" y2="471.7" stroke="#111" stroke-width="1" stroke-linecap="butt"/>
<line x1="428.8" y1="468.5" x2="428.8" y2="471.7" stroke="#111" stroke-width="1" stroke-linecap="butt"/>
<text x="303.1" y="481.7" font-size="8.6" text-anchor="middle" font-weight="normal" fill="#222" >4</text>
<text x="353.2" y="481.7" font-size="8.6" text-anchor="middle" font-weight="normal" fill="#222" >26</text>
<text x="403.3" y="481.7" font-size="8.6" text-anchor="middle" font-weight="normal" fill="#222" >52</text>
<line x1="303.1" y1="466.03" x2="303.1" y2="441.33" stroke="#111" stroke-width="1.3" stroke-linecap="butt"/>
<line x1="353.1" y1="457.29" x2="353.1" y2="420.72" stroke="#111" stroke-width="1.3" stroke-linecap="butt"/>
<line x1="403.2" y1="426.42" x2="403.2" y2="399.53" stroke="#111" stroke-width="1.3" stroke-linecap="butt"/>
<line x1="301.3" y1="441.33" x2="304.9" y2="441.33" stroke="#111" stroke-width="1.3" stroke-linecap="butt"/>
<line x1="301.3" y1="463.08" x2="304.9" y2="463.08" stroke="#111" stroke-width="1.3" stroke-linecap="butt"/>
<line x1="351.3" y1="420.72" x2="354.9" y2="420.72" stroke="#111" stroke-width="1.3" stroke-linecap="butt"/>
<line x1="351.3" y1="428.79" x2="354.9" y2="428.79" stroke="#111" stroke-width="1.3" stroke-linecap="butt"/>
<line x1="401.4" y1="399.53" x2="405" y2="399.53" stroke="#111" stroke-width="1.3" stroke-linecap="butt"/>
<line x1="401.4" y1="403.33" x2="405" y2="403.33" stroke="#111" stroke-width="1.3" stroke-linecap="butt"/>
<polyline points="303.1,460.14 353.1,444.75 403.2,420.72" fill="none" stroke="#1e2b52" stroke-width="1.7" stroke-linejoin="miter"/>
<polyline points="303.1,452.06 353.1,446.37 403.2,417.77" fill="none" stroke="#9e1334" stroke-width="1.7" stroke-linejoin="miter"/>
<polyline points="303.1,459.19 353.1,444.46 403.2,416.44" fill="none" stroke="#65a03c" stroke-width="1.7" stroke-linejoin="miter"/>
<polyline points="303.1,466.03 353.1,457.29 403.2,426.42" fill="none" stroke="#311944" stroke-width="1.7" stroke-linejoin="miter"/>
<line x1="417.3" y1="396" x2="426.2" y2="396" stroke="#1e2b52" stroke-width="1.7" stroke-linecap="butt"/>
<text x="429.6" y="398.7" font-size="8.5" text-anchor="start" font-weight="normal" fill="#222" >GMP</text>
<line x1="417.3" y1="408.4" x2="426.2" y2="408.4" stroke="#9e1334" stroke-width="1.7" stroke-linecap="butt"/>
<text x="429.6" y="411.1" font-size="8.5" text-anchor="start" font-weight="normal" fill="#222" >CMP</text>
<line x1="417.3" y1="420.8" x2="426.2" y2="420.8" stroke="#65a03c" stroke-width="1.7" stroke-linecap="butt"/>
<text x="429.6" y="423.5" font-size="8.5" text-anchor="start" font-weight="normal" fill="#222" >MEP</text>
<line x1="417.3" y1="433.4" x2="426.2" y2="433.4" stroke="#311944" stroke-width="1.7" stroke-linecap="butt"/>
<text x="429.6" y="436.1" font-size="8.5" text-anchor="start" font-weight="normal" fill="#222" >CLP</text>
<text x="8.1" y="510.6" font-size="12.6" text-anchor="start" font-weight="bold" fill="#000" >G</text>
<line x1="57.5" y1="518.1" x2="57.5" y2="619.8" stroke="#111" stroke-width="1.4" stroke-linecap="butt"/>
<line x1="54.3" y1="616.8" x2="57.5" y2="616.8" stroke="#111" stroke-width="1" stroke-linecap="butt"/>
<line x1="54.3" y1="607.25" x2="57.5" y2="607.25" stroke="#111" stroke-width="1" stroke-linecap="butt"/>
<line x1="54.3" y1="597.7" x2="57.5" y2="597.7" stroke="#111" stroke-width="1" stroke-linecap="butt"/>
<line x1="54.3" y1="588.15" x2="57.5" y2="588.15" stroke="#111" stroke-width="1" stroke-linecap="butt"/>
<line x1="54.3" y1="578.6" x2="57.5" y2="578.6" stroke="#111" stroke-width="1" stroke-linecap="butt"/>
<line x1="54.3" y1="569.05" x2="57.5" y2="569.05" stroke="#111" stroke-width="1" stroke-linecap="butt"/>
<line x1="54.3" y1="559.5" x2="57.5" y2="559.5" stroke="#111" stroke-width="1" stroke-linecap="butt"/>
<line x1="54.3" y1="549.95" x2="57.5" y2="549.95" stroke="#111" stroke-width="1" stroke-linecap="butt"/>
<line x1="54.3" y1="540.4" x2="57.5" y2="540.4" stroke="#111" stroke-width="1" stroke-linecap="butt"/>
<line x1="54.3" y1="530.85" x2="57.5" y2="530.85" stroke="#111" stroke-width="1" stroke-linecap="butt"/>
<line x1="54.3" y1="521.3" x2="57.5" y2="521.3" stroke="#111" stroke-width="1" stroke-linecap="butt"/>
<text x="50.9" y="619.6" font-size="8.9" text-anchor="end" font-weight="normal" fill="#222" >0</text>
<text x="50.9" y="600.5" font-size="8.9" text-anchor="end" font-weight="normal" fill="#222" >20</text>
<text x="50.9" y="581.4" font-size="8.9" text-anchor="end" font-weight="normal" fill="#222" >40</text>
<text x="50.9" y="562.3" font-size="8.9" text-anchor="end" font-weight="normal" fill="#222" >60</text>
<text x="50.9" y="543.2" font-size="8.9" text-anchor="end" font-weight="normal" fill="#222" >80</text>
<text x="50.9" y="524.1" font-size="8.9" text-anchor="end" font-weight="normal" fill="#222" >100</text>
<line x1="56.8" y1="616.8" x2="211.1" y2="616.8" stroke="#111" stroke-width="1.4" stroke-linecap="butt"/>
<line x1="107.7" y1="616.8" x2="107.7" y2="620" stroke="#111" stroke-width="1" stroke-linecap="butt"/>
<line x1="157.9" y1="616.8" x2="157.9" y2="620" stroke="#111" stroke-width="1" stroke-linecap="butt"/>
<line x1="207.9" y1="616.8" x2="207.9" y2="620" stroke="#111" stroke-width="1" stroke-linecap="butt"/>
<text x="82.7" y="628.2" font-size="8.6" text-anchor="middle" font-weight="normal" fill="#222" >4</text>
<text x="132.7" y="628.2" font-size="8.6" text-anchor="middle" font-weight="normal" fill="#222" >26</text>
<text x="182.5" y="628.2" font-size="8.6" text-anchor="middle" font-weight="normal" fill="#222" >52</text>
<text transform="translate(28.6,604) rotate(-90)" x="0" y="0" font-size="9.4" textLength="34" lengthAdjust="spacingAndGlyphs" font-weight="bold" fill="#222">YFP<tspan font-size="6" dy="-3.2">+</tspan><tspan dy="3.2"> cells</tspan></text>
<text transform="translate(28.6,564.2) rotate(-90)" x="0" y="0" font-size="9.4" textLength="33.3" lengthAdjust="spacingAndGlyphs" font-weight="bold" fill="#222">(/HSC %)</text>
<text x="100.25" y="643" font-size="10.4" textLength="68" lengthAdjust="spacingAndGlyphs" font-weight="bold" fill="#222">Weeks after 1st TAM</text>
<line x1="83.1" y1="611.36" x2="83.1" y2="600.56" stroke="#111" stroke-width="1.3" stroke-linecap="butt"/>
<line x1="132.8" y1="582.61" x2="132.8" y2="552.05" stroke="#111" stroke-width="1.3" stroke-linecap="butt"/>
<line x1="132.8" y1="610.5" x2="132.8" y2="599.51" stroke="#111" stroke-width="1.3" stroke-linecap="butt"/>
<line x1="182.9" y1="569.72" x2="182.9" y2="531.61" stroke="#111" stroke-width="1.3" stroke-linecap="butt"/>
<line x1="182.9" y1="605.34" x2="182.9" y2="599.9" stroke="#111" stroke-width="1.3" stroke-linecap="butt"/>
<line x1="81.3" y1="600.56" x2="84.9" y2="600.56" stroke="#111" stroke-width="1.3" stroke-linecap="butt"/>
<line x1="81.3" y1="608.59" x2="84.9" y2="608.59" stroke="#111" stroke-width="1.3" stroke-linecap="butt"/>
<line x1="131" y1="552.05" x2="134.6" y2="552.05" stroke="#111" stroke-width="1.3" stroke-linecap="butt"/>
<line x1="131" y1="599.51" x2="134.6" y2="599.51" stroke="#111" stroke-width="1.3" stroke-linecap="butt"/>
<line x1="131" y1="603.43" x2="134.6" y2="603.43" stroke="#111" stroke-width="1.3" stroke-linecap="butt"/>
<line x1="181.1" y1="531.61" x2="184.7" y2="531.61" stroke="#111" stroke-width="1.3" stroke-linecap="butt"/>
<line x1="181.1" y1="538.87" x2="184.7" y2="538.87" stroke="#111" stroke-width="1.3" stroke-linecap="butt"/>
<line x1="181.1" y1="599.9" x2="184.7" y2="599.9" stroke="#111" stroke-width="1.3" stroke-linecap="butt"/>
<polyline points="83.1,604.86 132.8,582.61 182.9,552.43" fill="none" stroke="#65a03c" stroke-width="1.7" stroke-linejoin="miter"/>
<polyline points="83.1,611.36 132.8,609.06 182.9,569.72" fill="none" stroke="#1e2b52" stroke-width="1.7" stroke-linejoin="miter"/>
<polyline points="83.1,616.8 132.8,610.5 182.9,605.34" fill="none" stroke="#9e1334" stroke-width="1.7" stroke-linejoin="miter"/>
<text x="197.4" y="546" font-size="9" text-anchor="start" font-weight="normal" fill="#222" >BM</text>
<line x1="191" y1="555.1" x2="201.2" y2="555.1" stroke="#65a03c" stroke-width="1.7" stroke-linecap="butt"/>
<text x="204.6" y="558" font-size="8" text-anchor="start" font-weight="normal" fill="#222" >My</text>
<line x1="191" y1="568" x2="201.2" y2="568" stroke="#1e2b52" stroke-width="1.7" stroke-linecap="butt"/>
<text x="204.6" y="570.9" font-size="8" text-anchor="start" font-weight="normal" fill="#222" >B</text>
<line x1="191" y1="580.6" x2="201.2" y2="580.6" stroke="#9e1334" stroke-width="1.7" stroke-linecap="butt"/>
<text x="204.6" y="583.2" font-size="8" text-anchor="start" font-weight="normal" fill="#222" >T</text>
<text x="244.4" y="510.4" font-size="12.6" text-anchor="start" font-weight="bold" fill="#000" >H</text>
<line x1="278.3" y1="518.5" x2="278.3" y2="619.9" stroke="#111" stroke-width="1.4" stroke-linecap="butt"/>
<line x1="275.1" y1="616.9" x2="278.3" y2="616.9" stroke="#111" stroke-width="1" stroke-linecap="butt"/>
<line x1="275.1" y1="597.86" x2="278.3" y2="597.86" stroke="#111" stroke-width="1" stroke-linecap="butt"/>
<line x1="275.1" y1="578.82" x2="278.3" y2="578.82" stroke="#111" stroke-width="1" stroke-linecap="butt"/>
<line x1="275.1" y1="559.78" x2="278.3" y2="559.78" stroke="#111" stroke-width="1" stroke-linecap="butt"/>
<line x1="275.1" y1="540.74" x2="278.3" y2="540.74" stroke="#111" stroke-width="1" stroke-linecap="butt"/>
<line x1="275.1" y1="521.7" x2="278.3" y2="521.7" stroke="#111" stroke-width="1" stroke-linecap="butt"/>
<text x="271.7" y="619.7" font-size="8.9" text-anchor="end" font-weight="normal" fill="#222" >0</text>
<text x="271.7" y="600.66" font-size="8.9" text-anchor="end" font-weight="normal" fill="#222" >20</text>
<text x="271.7" y="581.62" font-size="8.9" text-anchor="end" font-weight="normal" fill="#222" >40</text>
<text x="271.7" y="562.58" font-size="8.9" text-anchor="end" font-weight="normal" fill="#222" >60</text>
<text x="271.7" y="543.54" font-size="8.9" text-anchor="end" font-weight="normal" fill="#222" >80</text>
<text x="271.7" y="524.5" font-size="8.9" text-anchor="end" font-weight="normal" fill="#222" >100</text>
<line x1="277.6" y1="616.9" x2="431.6" y2="616.9" stroke="#111" stroke-width="1.4" stroke-linecap="butt"/>
<line x1="327.8" y1="616.9" x2="327.8" y2="620.1" stroke="#111" stroke-width="1" stroke-linecap="butt"/>
<line x1="378.3" y1="616.9" x2="378.3" y2="620.1" stroke="#111" stroke-width="1" stroke-linecap="butt"/>
<line x1="428.4" y1="616.9" x2="428.4" y2="620.1" stroke="#111" stroke-width="1" stroke-linecap="butt"/>
<text x="303.1" y="628.1" font-size="8.6" text-anchor="middle" font-weight="normal" fill="#222" >4</text>
<text x="353.5" y="628.1" font-size="8.6" text-anchor="middle" font-weight="normal" fill="#222" >26</text>
<text x="403.2" y="628.1" font-size="8.6" text-anchor="middle" font-weight="normal" fill="#222" >52</text>
<text x="321.1" y="643" font-size="10.4" textLength="68" lengthAdjust="spacingAndGlyphs" font-weight="bold" fill="#222">Weeks after 1st TAM</text>
<line x1="303.1" y1="586.82" x2="303.1" y2="578.25" stroke="#111" stroke-width="1.3" stroke-linecap="butt"/>
<line x1="303.1" y1="607.57" x2="303.1" y2="598.81" stroke="#111" stroke-width="1.3" stroke-linecap="butt"/>
<line x1="303.1" y1="614.23" x2="303.1" y2="610.43" stroke="#111" stroke-width="1.3" stroke-linecap="butt"/>
<line x1="353.1" y1="567.02" x2="353.1" y2="545.21" stroke="#111" stroke-width="1.3" stroke-linecap="butt"/>
<line x1="353.1" y1="594.43" x2="353.1" y2="580.72" stroke="#111" stroke-width="1.3" stroke-linecap="butt"/>
<line x1="353.1" y1="612.14" x2="353.1" y2="609.28" stroke="#111" stroke-width="1.3" stroke-linecap="butt"/>
<line x1="403.3" y1="585.67" x2="403.3" y2="530.36" stroke="#111" stroke-width="1.3" stroke-linecap="butt"/>
<line x1="403.3" y1="603.67" x2="403.3" y2="601.67" stroke="#111" stroke-width="1.3" stroke-linecap="butt"/>
<line x1="301.3" y1="578.25" x2="304.9" y2="578.25" stroke="#111" stroke-width="1.3" stroke-linecap="butt"/>
<line x1="301.3" y1="598.81" x2="304.9" y2="598.81" stroke="#111" stroke-width="1.3" stroke-linecap="butt"/>
<line x1="301.3" y1="610.43" x2="304.9" y2="610.43" stroke="#111" stroke-width="1.3" stroke-linecap="butt"/>
<line x1="351.3" y1="545.21" x2="354.9" y2="545.21" stroke="#111" stroke-width="1.3" stroke-linecap="butt"/>
<line x1="351.3" y1="580.72" x2="354.9" y2="580.72" stroke="#111" stroke-width="1.3" stroke-linecap="butt"/>
<line x1="351.3" y1="609.28" x2="354.9" y2="609.28" stroke="#111" stroke-width="1.3" stroke-linecap="butt"/>
<line x1="401.5" y1="530.36" x2="405.1" y2="530.36" stroke="#111" stroke-width="1.3" stroke-linecap="butt"/>
<line x1="401.5" y1="545.88" x2="405.1" y2="545.88" stroke="#111" stroke-width="1.3" stroke-linecap="butt"/>
<line x1="401.5" y1="553.5" x2="405.1" y2="553.5" stroke="#111" stroke-width="1.3" stroke-linecap="butt"/>
<line x1="401.5" y1="601.67" x2="405.1" y2="601.67" stroke="#111" stroke-width="1.3" stroke-linecap="butt"/>
<polyline points="303.1,586.82 353.1,567.02 403.3,553.31" fill="none" stroke="#311944" stroke-width="1.7" stroke-linejoin="miter"/>
<polyline points="303.1,607.57 353.1,594.43 403.3,563.87" fill="none" stroke="#65a03c" stroke-width="1.7" stroke-linejoin="miter"/>
<polyline points="303.1,614.23 353.1,611.76 403.3,585.67" fill="none" stroke="#1e2b52" stroke-width="1.7" stroke-linejoin="miter"/>
<polyline points="303.1,615.19 353.1,612.14 403.3,603.67" fill="none" stroke="#9e1334" stroke-width="1.7" stroke-linejoin="miter"/>
<text x="302" y="574.8" font-size="8.8" text-anchor="middle" font-weight="normal" fill="#333" >##</text>
<circle cx="350" cy="540.6" r="0.95" fill="#111"/>
<circle cx="353.2" cy="540.6" r="0.95" fill="#111"/>
<circle cx="356.4" cy="540.6" r="0.95" fill="#111"/>
<text x="403.3" y="526.3" font-size="8.8" text-anchor="middle" font-weight="normal" fill="#333" >#</text>
<circle cx="403.3" cy="597.6" r="0.95" fill="#111"/>
<text x="425" y="518.6" font-size="9" text-anchor="start" font-weight="normal" fill="#222" >PB</text>
<line x1="417.4" y1="528.4" x2="428.5" y2="528.4" stroke="#311944" stroke-width="1.7" stroke-linecap="butt"/>
<text x="431.7" y="531.1" font-size="8" text-anchor="start" font-weight="normal" fill="#222" >Plt</text>
<line x1="417.4" y1="540.8" x2="428.5" y2="540.8" stroke="#65a03c" stroke-width="1.7" stroke-linecap="butt"/>
<text x="431.7" y="543.6" font-size="8" text-anchor="start" font-weight="normal" fill="#222" >My</text>
<line x1="417.4" y1="553.4" x2="428.5" y2="553.4" stroke="#1e2b52" stroke-width="1.7" stroke-linecap="butt"/>
<text x="431.7" y="556.2" font-size="8" text-anchor="start" font-weight="normal" fill="#222" >B</text>
<line x1="417.4" y1="566.1" x2="428.5" y2="566.1" stroke="#9e1334" stroke-width="1.7" stroke-linecap="butt"/>
<text x="431.7" y="568.9" font-size="8" text-anchor="start" font-weight="normal" fill="#222" >T</text>
</g>
<rect x="0" y="0" width="520" height="1.3" fill="#000"/>
<rect x="0" y="0" width="1.4" height="651" fill="#000"/>
<rect x="518.4" y="0" width="1.6" height="651" fill="#000"/>
<rect x="0" y="649.2" width="520" height="1.8" fill="#000"/>
</svg></body></html>
